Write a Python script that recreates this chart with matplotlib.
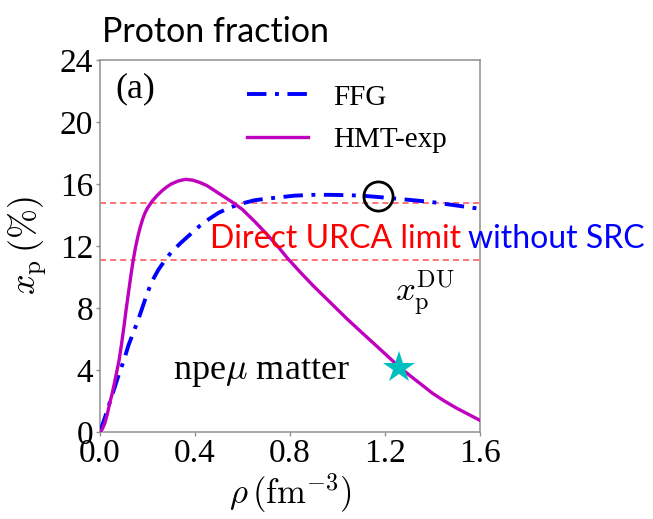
import matplotlib
matplotlib.use("Agg")
import matplotlib.pyplot as plt

plt.rcParams["font.family"] = ["Liberation Serif", "DejaVu Serif"]
plt.rcParams["mathtext.fontset"] = "cm"

# Proton fraction x_p (%) versus baryon density rho (fm^-3)
rho_ffg = [0.00, 0.02, 0.04, 0.06, 0.08, 0.10, 0.12, 0.14, 0.16, 0.18, 0.20,
           0.22, 0.245, 0.27, 0.30, 0.34, 0.38, 0.42, 0.46, 0.50, 0.55, 0.60,
           0.65, 0.70, 0.76, 0.82, 0.90, 0.97, 1.04, 1.10, 1.18, 1.25, 1.32,
           1.39, 1.46, 1.53, 1.60]
xp_ffg = [0.0, 0.9, 1.85, 2.8, 3.75, 4.6, 5.6, 6.4, 7.2, 8.1, 9.0,
          9.75, 10.45, 11.0, 11.6, 12.2, 12.75, 13.3, 13.75, 14.15, 14.5, 14.75,
          14.95, 15.05, 15.15, 15.25, 15.3, 15.3, 15.28, 15.25, 15.15, 15.05, 14.95,
          14.85, 14.7, 14.55, 14.4]

rho_hmt = [0.00, 0.01, 0.02, 0.03, 0.04, 0.05, 0.06, 0.07, 0.08, 0.09, 0.10,
           0.11, 0.12, 0.13, 0.14, 0.15, 0.16, 0.17, 0.18, 0.19, 0.20, 0.22,
           0.24, 0.26, 0.28, 0.30, 0.33, 0.36, 0.39, 0.42, 0.45, 0.48, 0.52,
           0.56, 0.60, 0.65, 0.70, 0.75, 0.79, 0.85, 0.90, 0.95, 1.00, 1.04,
           1.10, 1.15, 1.20, 1.26, 1.30, 1.35, 1.40, 1.45, 1.50, 1.55, 1.60]
xp_hmt = [0.0, 0.2, 0.55, 1.1, 1.8, 2.4, 3.1, 3.85, 4.6, 5.6, 6.7,
          7.9, 9.0, 10.1, 11.1, 11.95, 12.65, 13.25, 13.75, 14.15, 14.45, 14.9,
          15.25, 15.55, 15.8, 16.0, 16.2, 16.3, 16.25, 16.1, 15.9, 15.6, 15.2,
          14.8, 14.35, 13.6, 12.8, 11.95, 11.2, 10.2, 9.4, 8.65, 7.9, 7.3,
          6.45, 5.75, 5.05, 4.2, 3.7, 3.1, 2.5, 2.0, 1.55, 1.15, 0.75]

# Direct URCA thresholds (%)
xp_du_levels = [14.8, 11.1]

# Onset of direct URCA on the FFG curve, and end point of npe-mu matter
du_onset_rho, du_onset_xp = 1.172, 15.2
star_rho, star_xp = 1.26, 4.15

x_ticks = [0.0, 0.4, 0.8, 1.2, 1.6]
y_ticks = [0, 4, 8, 12, 16, 20, 24]

fig = plt.figure(figsize=(6.53, 5.19), dpi=100)
ax = fig.add_axes([100 / 653, 1 - 432 / 519, 380 / 653, 372 / 519])

for lvl in xp_du_levels:
    ax.axhline(lvl, color=(1.0, 0.3, 0.3), lw=1.1, ls=(0, (4, 2.6)), zorder=1)

ax.plot(rho_ffg, xp_ffg, color="b", lw=2.8, ls=(0, (5, 2.2, 1, 2.2)),
        label="FFG", zorder=3)
ax.plot(rho_hmt, xp_hmt, color="m", lw=2.4, label="HMT-exp", zorder=3)

ax.plot([du_onset_rho], [du_onset_xp], "o", mfc="none", mec="k", ms=21,
        mew=2.0, zorder=4)
ax.plot([star_rho], [star_xp], "*", color="c", ms=24, mew=0, zorder=4)

ax.set_xlim(0, 1.6)
ax.set_ylim(0, 24)
ax.set_xticks(x_ticks)
ax.set_xticklabels([f"{t:.1f}" for t in x_ticks])
ax.set_yticks(y_ticks)
ax.tick_params(direction="out", length=3, width=1, color="#909090",
               labelsize=24, pad=2)
for sp in ax.spines.values():
    sp.set_color("#909090")
    sp.set_linewidth(1.1)

ax.set_xlabel(r"$\rho\,(\mathrm{fm}^{-3})$", fontsize=25)
ax.set_ylabel(r"$x_{\mathrm{p}}\,(\%)$", fontsize=26)
ax.xaxis.set_label_coords(0.5, -0.105)
ax.yaxis.set_label_coords(-0.135, 0.5)

leg = ax.legend(loc="upper left", bbox_to_anchor=(0.387, 0.935), frameon=False,
                fontsize=21, handlelength=2.1, handletextpad=0.85,
                labelspacing=0.55, borderpad=0, borderaxespad=0)

ax.text(0.092, 0.922, "(a)", transform=ax.transAxes, fontsize=26,
        ha="center", va="center")
ax.text(0.424, 0.159, r"npe$\mu$ matter", transform=ax.transAxes,
        fontsize=26, ha="center", va="center")
ax.text(1.368, 9.0, r"$x_{\mathrm{p}}^{\mathrm{DU}}$", fontsize=25,
        ha="center", va="center")

red = ax.text(0.463, 11.87, "Direct URCA limit", color="red", fontsize=23,
              family=["Lato", "DejaVu Sans"], ha="left", va="baseline",
              clip_on=False, zorder=5)
ax.annotate("without SRC", xy=(1, 0), xycoords=red, xytext=(5, 0),
            textcoords="offset points", color="blue", fontsize=23,
            family=["Lato", "DejaVu Sans"], ha="left", va="bottom",
            annotation_clip=False, zorder=5)

fig.text(102 / 653, 1 - 42 / 519, "Proton fraction", fontsize=24.5,
         family=["Lato", "DejaVu Sans"], ha="left", va="baseline")

fig.savefig("out.png", dpi=100)
